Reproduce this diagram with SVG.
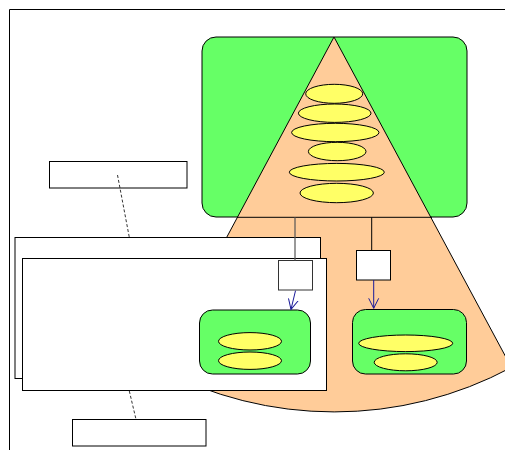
<svg xmlns="http://www.w3.org/2000/svg" width="505" height="450" viewBox="0 0 505 450">
<style>
.box{fill:#fff;stroke:#000;stroke-width:1}
.grn{fill:#66ff66;stroke:#000;stroke-width:1}
.yel{fill:#ffff66;stroke:#000;stroke-width:1}
.ln{fill:none;stroke:#000;stroke-width:1}
.gln{fill:none;stroke:#555;stroke-width:1.2}
.dash{fill:none;stroke:#000;stroke-width:0.8;stroke-dasharray:3,2}
.arr{fill:none;stroke:#1a1a99;stroke-width:1}
</style>
<defs>
<marker id="ah" markerUnits="userSpaceOnUse" markerWidth="12" markerHeight="12" refX="10" refY="5" orient="auto" viewBox="0 0 12 10">
<path d="M0,0 L10,5 L0,10" fill="none" stroke="#1a1a99" stroke-width="1"/>
</marker>
</defs>
<rect width="505" height="450" fill="#fff"/>
<g id="frame">
<path class="ln" d="M9.5,450 V9.5 H505"/>
</g>
<g id="bigGreen">
<rect class="grn" x="202" y="37" width="265" height="180" rx="14"/>
</g>
<g id="fan">
<path d="M334,37 L157,367.4 A375,375 0 0 0 511.4,367.4 Z" fill="#ffcc99" stroke="#000" stroke-width="1"/>
</g>
<g id="fanItems">
<ellipse class="yel" cx="334.2" cy="93.8" rx="28.5" ry="9.5"/>
<ellipse class="yel" cx="334.7" cy="113.2" rx="36.3" ry="9.2"/>
<ellipse class="yel" cx="335.3" cy="132.5" rx="43.7" ry="9.2"/>
<ellipse class="yel" cx="337.2" cy="151.5" rx="28.8" ry="9.2"/>
<ellipse class="yel" cx="336.8" cy="172.2" rx="47.5" ry="8.8"/>
<ellipse class="yel" cx="336.7" cy="193" rx="36.7" ry="9.7"/>
</g>
<g id="labelTop"><rect class="box" x="49.5" y="161.5" width="137.5" height="26.5"/></g>
<g id="backBox"><rect class="box" x="15" y="237.5" width="305.5" height="141"/></g>
<g id="frontBox"><rect class="box" x="22.5" y="258.5" width="304" height="132"/></g>
<g id="labelBottom"><rect class="box" x="72.5" y="419.5" width="133.5" height="26.5"/></g>
<g id="box1"><rect class="box" x="278.5" y="260.5" width="34" height="29.5" style="stroke:#333"/></g>
<g id="box2"><rect class="box" x="356.5" y="250.5" width="34" height="29.5"/></g>
<g id="greenLeft">
<rect class="grn" x="199.5" y="310" width="111" height="64" rx="13"/>
<ellipse class="yel" cx="250" cy="341.3" rx="31.5" ry="8.7"/>
<ellipse class="yel" cx="250" cy="360.7" rx="31.5" ry="8.7"/>
</g>
<g id="greenRight">
<rect class="grn" x="352.5" y="309.5" width="114" height="64.5" rx="13"/>
<ellipse class="yel" cx="405.7" cy="343.3" rx="47" ry="8.3"/>
<ellipse class="yel" cx="405.7" cy="362.3" rx="31.5" ry="8.5"/>
</g>
<g id="connectors">
<path class="ln" d="M237,217.3 H432"/>
<path class="gln" d="M295,217.3 V260.5"/>
<path class="ln" d="M371.7,217.3 V250.5"/>
<path class="arr" d="M295.5,290.7 L291,309.3" marker-end="url(#ah)"/>
<path class="arr" d="M373.7,280 V308.3" marker-end="url(#ah)"/>
<path class="dash" d="M117.5,175 L129.3,237.3"/>
<path class="dash" d="M129.3,391 L136,419.3"/>
</g>
</svg>
